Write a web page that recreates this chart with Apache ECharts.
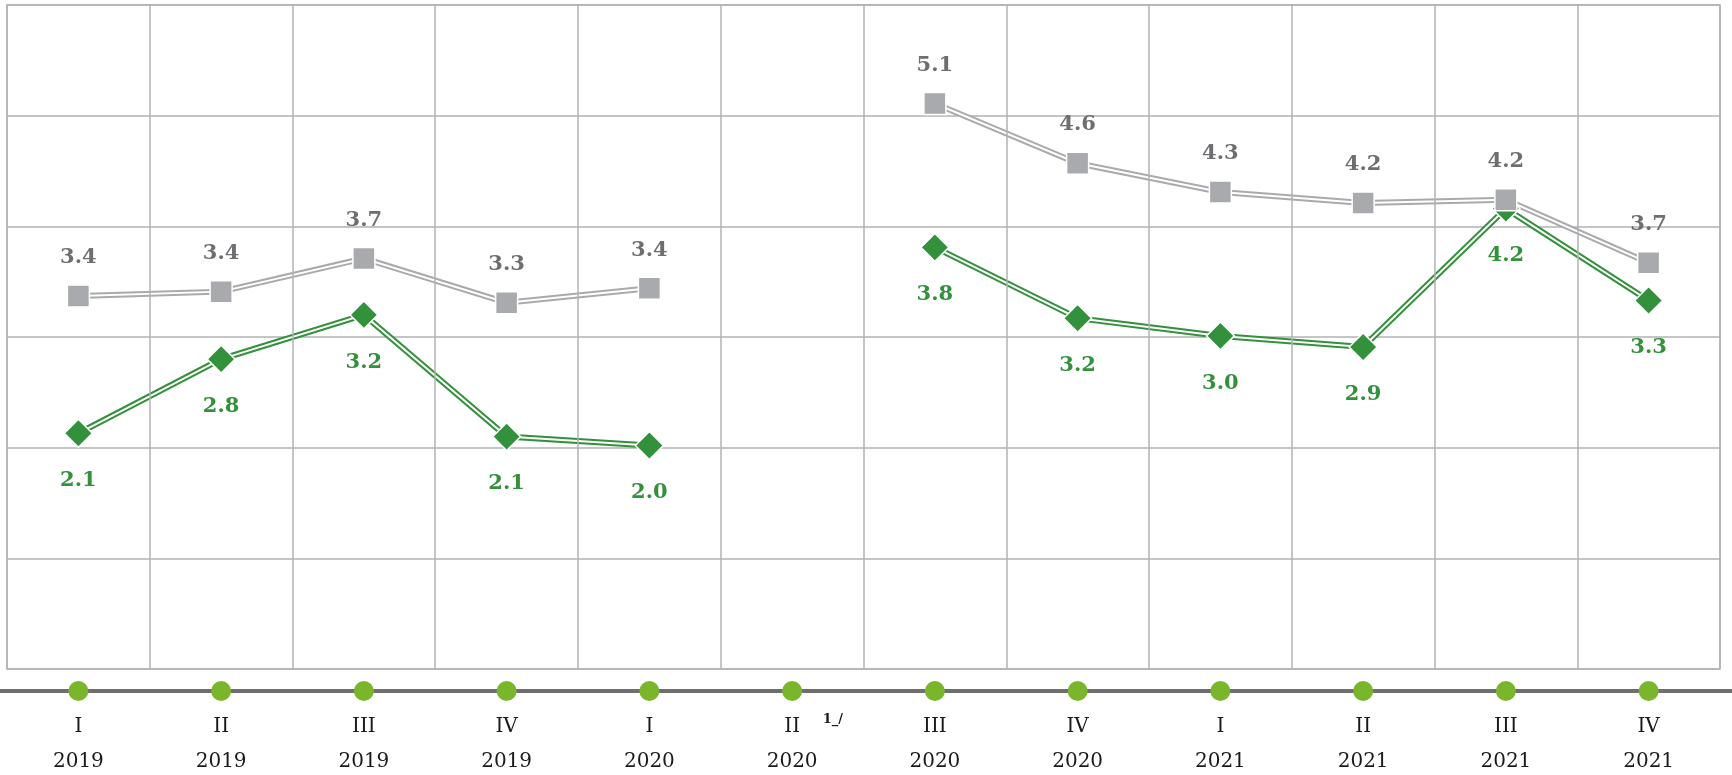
<!DOCTYPE html>
<html>
<head>
<meta charset="utf-8">
<script src="https://cdn.jsdelivr.net/npm/echarts@6/dist/echarts.min.js"></script>
<style>
html,body{margin:0;padding:0;background:#fff;}
#chart{width:1732px;height:775px;}
</style>
</head>
<body>
<div id="chart"></div>
<script>
// ---- data ----
const quarters = ['I','II','III','IV','I','II','III','IV','I','II','III','IV'];
const years = ['2019','2019','2019','2019','2020','2020','2020','2020','2021','2021','2021','2021'];
const footnotes = ['','','','','','1_/','','','','','',''];
const categories = quarters.map((q, i) => q + ' ' + years[i]);
const greySeries = [3.37, 3.41, 3.71, 3.31, 3.44, null, 5.11, 4.57, 4.31, 4.21, 4.24, 3.67];
const greenSeries = [2.13, 2.80, 3.20, 2.10, 2.02, null, 3.81, 3.17, 3.01, 2.91, 4.16, 3.33];

// ---- styles ----
const GRID = '#b2b2b4';
const GREY = '#a9aaad';
const GREY_TXT = '#6d6e71';
const GREEN = '#33903b';
const DOT = '#7ab62c';
const SERIF = '"DejaVu Serif", "Liberation Serif", serif';

const chart = echarts.init(document.getElementById('chart'), null, {renderer: 'canvas'});

function lineLayer(data, color, width, z) {
  return {
    type: 'line', data: data, symbol: 'none', silent: true, z: z,
    connectNulls: false, animation: false,
    lineStyle: {color: color, width: width, join: 'miter'}
  };
}

chart.setOption({
  animation: false,
  backgroundColor: '#fff',
  grid: {left: 7, right: 12, top: 5, bottom: 106, show: true, borderColor: GRID, borderWidth: 1.5},
  graphic: [{
    type: 'rect', left: 0, bottom: 82, z: 1,
    shape: {width: 1732, height: 4},
    style: {fill: '#6f6f6f'}
  }],
  xAxis: {
    type: 'category', data: categories, boundaryGap: true, z: 10,
    axisLine: {show: false}, axisTick: {show: false},
    splitLine: {show: true, interval: 0, lineStyle: {color: GRID, width: 1.5}},
    axisLabel: {
      interval: 0, margin: 12, color: '#1a1a1a', fontFamily: SERIF,
      formatter: function (val, idx) {
        const q = quarters[idx], y = years[idx], f = footnotes[idx];
        const mid = f ? '{pad| }{q|' + q + '}{sup|' + f + '}' : '{q|' + q + '}';
        return '{dot| }\n' + mid + '\n{y|' + y + '}';
      },
      rich: {
        dot: {width: 20, height: 20, lineHeight: 20, borderRadius: 10, backgroundColor: DOT, fontSize: 1},
        q: {fontSize: 20, lineHeight: 52, fontFamily: SERIF, color: '#1a1a1a'},
        y: {fontSize: 20, lineHeight: 18, fontFamily: SERIF, color: '#1a1a1a'},
        pad: {width: 43, fontSize: 12},
        sup: {width: 43, align: 'right', fontSize: 13, fontWeight: 'bold', fontFamily: SERIF, color: '#1a1a1a', padding: [0, 0, 14, 0]}
      }
    }
  },
  yAxis: {
    type: 'value', min: 0, max: 6, interval: 1,
    axisLine: {show: false}, axisTick: {show: false}, axisLabel: {show: false},
    splitLine: {show: true, lineStyle: {color: GRID, width: 1.5}}
  },
  series: [
    lineLayer(greySeries, GREY, 6, 2),
    lineLayer(greySeries, '#ffffff', 2, 3),
    lineLayer(greenSeries, GREEN, 6, 4),
    lineLayer(greenSeries, '#ffffff', 2, 5),
    {
      type: 'line', data: greenSeries, z: 6, connectNulls: false,
      lineStyle: {width: 0, opacity: 0},
      symbol: 'diamond', symbolSize: 28, showSymbol: true,
      itemStyle: {color: GREEN, borderColor: '#fff', borderWidth: 1.5},
      label: {
        show: true, position: 'bottom', distance: 22,
        color: GREEN, fontFamily: SERIF, fontWeight: 'bold', fontSize: 21,
        formatter: p => (p.value == null ? '' : Number(p.value).toFixed(1))
      }
    },
    {
      type: 'line', data: greySeries, z: 7, connectNulls: false,
      lineStyle: {width: 0, opacity: 0},
      symbol: 'rect', symbolSize: 22, showSymbol: true,
      itemStyle: {color: GREY, borderColor: '#fff', borderWidth: 1.5},
      label: {
        show: true, position: 'top', distance: 16,
        color: GREY_TXT, fontFamily: SERIF, fontWeight: 'bold', fontSize: 21,
        formatter: p => (p.value == null ? '' : Number(p.value).toFixed(1))
      }
    }
  ]
});
</script>
</body>
</html>
